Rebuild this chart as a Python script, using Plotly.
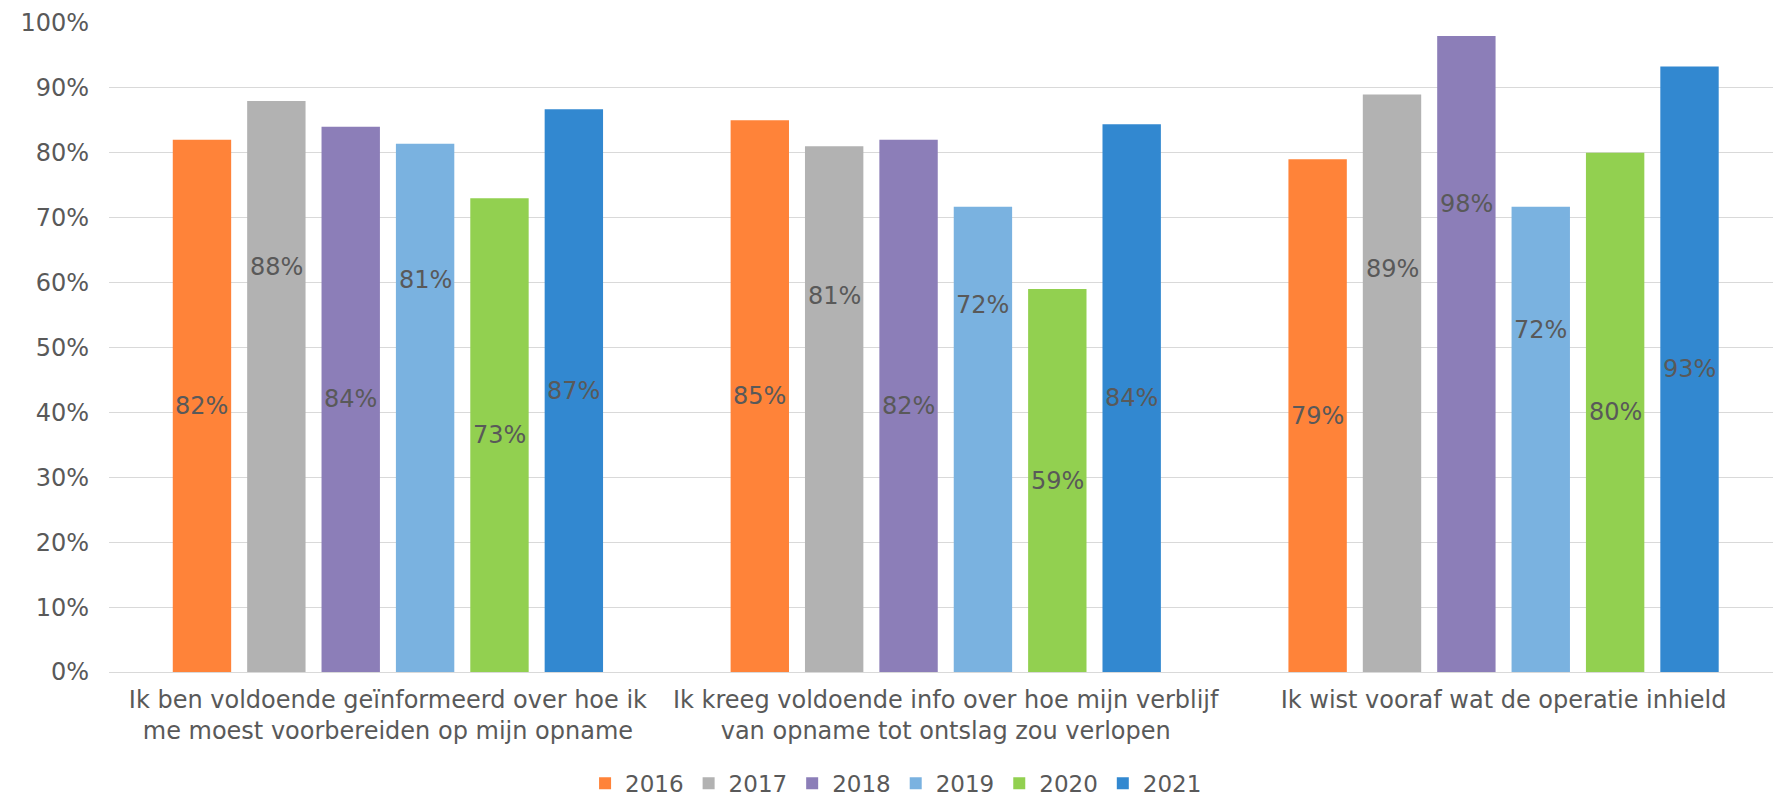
import plotly.graph_objects as go

categories = [
    "Ik ben voldoende geïnformeerd over hoe ik<br>me moest voorbereiden op mijn opname",
    "Ik kreeg voldoende info over hoe mijn verblijf<br>van opname tot ontslag zou verlopen",
    "Ik wist vooraf wat de operatie inhield",
]
years = ["2016", "2017", "2018", "2019", "2020", "2021"]
v2016 = [0.82, 0.85, 0.79]
v2017 = [0.88, 0.81, 0.89]
v2018 = [0.84, 0.82, 0.98]
v2019 = [0.814, 0.717, 0.717]
v2020 = [0.73, 0.59, 0.80]
v2021 = [0.867, 0.844, 0.933]
series = [v2016, v2017, v2018, v2019, v2020, v2021]
y_ticks = [0, 0.1, 0.2, 0.3, 0.4, 0.5, 0.6, 0.7, 0.8, 0.9, 1.0]

colors = ["#FF8339", "#B2B2B2", "#8C7EB8", "#7AB2E0", "#92D050", "#3288D0"]
# pixel nudges for data labels that sit above the bar middle in the original
label_nudge = {(1, 0): 119, (3, 0): 128, (1, 1): 113, (3, 1): 134,
               (1, 2): 114, (2, 2): 150, (3, 2): 109}

FONT = "DejaVu Sans, Verdana, sans-serif"
TXT = "#595959"
BARGAP = 0.2
BARGROUPGAP = 0.215

fig = go.Figure()
for i, (yr, vals) in enumerate(zip(years, series)):
    fig.add_trace(go.Bar(
        name=yr, x=categories, y=vals,
        marker=dict(color=colors[i], line=dict(width=0)),
        hoverinfo="skip",
    ))

slot = (1 - BARGAP) / len(years)
annotations = []
for i, vals in enumerate(series):
    for j, v in enumerate(vals):
        annotations.append(dict(
            x=j + (i - (len(years) - 1) / 2) * slot, y=v / 2,
            xref="x", yref="y",
            text=f"{round(v * 100):.0f}%",
            showarrow=False,
            yshift=label_nudge.get((i, j), 0),
            font=dict(family=FONT, size=24, color=TXT),
        ))

fig.update_layout(
    width=1773, height=802,
    margin=dict(l=109, r=0, t=22.5, b=129.5, pad=0, autoexpand=False),
    paper_bgcolor="white", plot_bgcolor="white",
    barmode="group", bargap=BARGAP, bargroupgap=BARGROUPGAP,
    font=dict(family=FONT, size=24, color=TXT),
    showlegend=True,
    legend=dict(orientation="h", x=0.473, xanchor="center", y=-0.1715, yanchor="middle",
                font=dict(family=FONT, size=23, color=TXT),
                itemwidth=30, tracegroupgap=0, traceorder="normal"),
    annotations=annotations,
)
fig.update_xaxes(
    type="category", range=[-0.5, 2.483], showgrid=False, showline=False,
    ticks="", ticklabelstandoff=11, automargin=False,
    tickfont=dict(family=FONT, size=24, color=TXT),
)
fig.update_yaxes(
    range=[0, 1], tickvals=y_ticks, tickformat=".0%",
    showgrid=True, gridcolor="#D9D9D9", gridwidth=1.4,
    zeroline=True, zerolinecolor="#D9D9D9", zerolinewidth=1.4,
    showline=False, ticks="", ticklabelstandoff=19, automargin=False,
    tickfont=dict(family=FONT, size=24, color=TXT),
)

fig.write_html(
    "out.html",
    config={"displayModeBar": False},
    post_script="document.body.style.margin='0';document.body.style.overflow='hidden';",
)
